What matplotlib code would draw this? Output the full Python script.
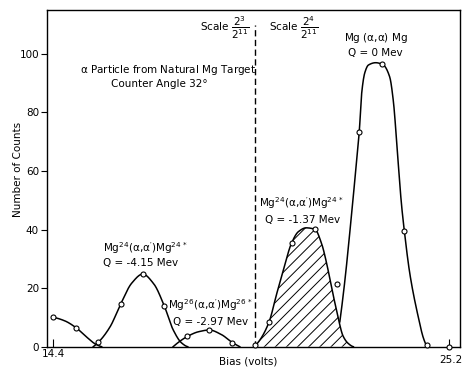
import numpy as np
import matplotlib
matplotlib.use("Agg")
import matplotlib.pyplot as plt
from matplotlib.transforms import ScaledTranslation

plt.rcParams['font.family'] = ['DejaVu Sans']
plt.rcParams['mathtext.default'] = 'regular'
plt.rcParams['hatch.linewidth'] = 0.7

# ---- measured points (open circles) ----
bias = [14.4, 15.02, 15.63, 16.24, 16.84, 17.43, 18.06, 18.66, 19.29, 19.9,
        20.29, 20.91, 21.54, 22.13, 22.75, 23.37, 23.98, 24.6, 25.2]
counts = [10, 6.5, 1.5, 14.6, 24.8, 13.9, 3.5, 5.7, 1.4, 0.5,
          8.5, 35.3, 40.3, 21.3, 73.4, 96.5, 39.6, 0.5, 0]

# ---- hand-drawn curve knots ----
tail_x = [14.4, 14.7, 15.02, 15.3, 15.55, 15.72]
tail_y = [10, 8.9, 6.5, 3.4, 0.9, 0]

mg24a_x = [15.49, 15.63, 15.95, 16.24, 16.54, 16.84, 17.14, 17.43, 17.67, 17.9, 18.07]
mg24a_y = [0, 1.5, 6.8, 14.6, 21.7, 24.8, 21.5, 13.9, 5.8, 1.3, 0]

mg26_x = [17.67, 18.06, 18.36, 18.66, 18.98, 19.29, 19.49]
mg26_y = [0, 3.5, 5.1, 5.7, 4.2, 1.4, 0]

mg24b_x = [19.88, 20.05, 20.29, 20.5, 20.68, 20.9, 21.09, 21.3, 21.54, 21.72,
           21.86, 21.99, 22.13, 22.31, 22.45, 22.59]
mg24b_y = [0, 2.5, 8.5, 18.2, 26.2, 35.3, 39.3, 40.6, 40.1, 35.3,
           28.5, 20.5, 12.5, 3.6, 1.1, 0]

elastic_x = [22.22, 22.36, 22.5, 22.63, 22.75, 22.82, 22.9, 23.0, 23.2, 23.4,
             23.58, 23.68, 23.76, 23.83, 23.9, 23.98, 24.13, 24.36, 24.5, 24.6]
elastic_y = [8.5, 22.8, 40, 57, 73.4, 87, 93.5, 96.2, 97, 96.3,
             92.2, 84, 72, 60, 49, 39.6, 25, 10.2, 3, 0]

y_ticks = [0, 20, 40, 60, 80, 100]
x_ticks = [14.4, 25.2]
x_ticklabels = ['14.4', '25.2']
scale_split = 19.9


def pchip(xk, yk, n=400):
    x = np.asarray(xk, float)
    y = np.asarray(yk, float)
    h = np.diff(x)
    dl = np.diff(y) / h
    m = len(x)
    d = np.zeros(m)
    for k in range(1, m - 1):
        if dl[k - 1] * dl[k] > 0:
            w1 = 2 * h[k] + h[k - 1]
            w2 = h[k] + 2 * h[k - 1]
            d[k] = (w1 + w2) / (w1 / dl[k - 1] + w2 / dl[k])

    def endslope(h0, h1, d0, d1):
        s = ((2 * h0 + h1) * d0 - h0 * d1) / (h0 + h1)
        if np.sign(s) != np.sign(d0):
            s = 0.0
        elif np.sign(d0) != np.sign(d1) and abs(s) > abs(3 * d0):
            s = 3 * d0
        return s

    d[0] = endslope(h[0], h[1], dl[0], dl[1])
    d[-1] = endslope(h[-1], h[-2], dl[-1], dl[-2])
    xs = np.linspace(x[0], x[-1], n)
    idx = np.clip(np.searchsorted(x, xs) - 1, 0, m - 2)
    t = (xs - x[idx]) / h[idx]
    h00 = 2 * t**3 - 3 * t**2 + 1
    h10 = t**3 - 2 * t**2 + t
    h01 = -2 * t**3 + 3 * t**2
    h11 = t**3 - t**2
    ys = (h00 * y[idx] + h10 * h[idx] * d[idx] + h01 * y[idx + 1]
          + h11 * h[idx] * d[idx + 1])
    return xs, ys


fig = plt.figure(figsize=(4.63, 3.68), dpi=100)
ax = fig.add_axes([46.7 / 463, (368 - 346.7) / 368, (460 - 46.7) / 463, (346.7 - 10) / 368])
ax.set_xlim(14.22, 25.5)
ax.set_ylim(0, 115)

lw = 1.1
for kx, ky in [(tail_x, tail_y), (mg24a_x, mg24a_y), (mg26_x, mg26_y),
               (mg24b_x, mg24b_y), (elastic_x, elastic_y)]:
    xs, ys = pchip(kx, ky)
    ax.plot(xs, ys, color='black', lw=lw, zorder=3)

# hatched peak
hx, hy = pchip(mg24b_x, mg24b_y)
ax.fill_between(hx, hy, 0, facecolor='none', edgecolor='black', hatch='///',
                linewidth=0, zorder=2)

# data circles
ax.plot(bias, counts, linestyle='none', marker='o', ms=3.6, mfc='white',
        mec='black', mew=0.8, zorder=4, clip_on=False)

# dashed scale division
ax.plot([scale_split, scale_split], [0, 110], color='black', lw=1.0,
        dashes=(4.5, 2.5), zorder=3)

# spines / ticks
for s in ax.spines.values():
    s.set_linewidth(1.0)
ax.set_yticks(y_ticks)
ax.set_yticklabels([str(v) for v in y_ticks])
ax.tick_params(axis='y', direction='out', length=4, width=0.8, pad=1.5, labelsize=7.5)
ax.set_xticks(x_ticks)
ax.set_xticklabels(x_ticklabels)
ax.tick_params(axis='x', direction='in', length=6, width=0.8, pad=1.5, labelsize=7.5)
lab = ax.get_xticklabels()[1]
lab.set_transform(lab.get_transform() + ScaledTranslation(2 / 100, -6 / 100, fig.dpi_scale_trans))

ax.set_xlabel('Bias (volts)', fontsize=7.5)
ax.xaxis.set_label_coords((248 - 46.7) / 413.3, -(356 - 346.7) / 336.7)
ax.set_ylabel('Number of Counts', fontsize=7.5)
ax.yaxis.set_label_coords((23 - 46.7) / 413.3, 0.525)

fs = 7.5
ax.text(17.52, 94.4, r'$\alpha$ Particle from Natural Mg Target', fontsize=fs,
        ha='center', va='center')
ax.text(17.28, 89.6, 'Counter Angle 32°', fontsize=fs, ha='center', va='center')

ax.text(18.4, 108.9, r'Scale $\dfrac{2^3}{2^{11}}$', fontsize=fs, ha='left', va='center')
ax.text(20.29, 108.9, r'Scale $\dfrac{2^4}{2^{11}}$', fontsize=fs, ha='left', va='center')

ax.text(15.76, 33.7, r"Mg$^{24}$($\alpha$,$\alpha'$)Mg$^{24\,*}$", fontsize=fs,
        ha='left', va='center')
ax.text(15.76, 28.6, 'Q = -4.15 Mev', fontsize=fs, ha='left', va='center')

ax.text(17.53, 14.2, r"Mg$^{26}$($\alpha$,$\alpha'$)Mg$^{26\,*}$", fontsize=fs,
        ha='left', va='center')
ax.text(17.67, 8.4, 'Q = -2.97 Mev', fontsize=fs, ha='left', va='center')

ax.text(20.01, 49.1, r"Mg$^{24}$($\alpha$,$\alpha'$)Mg$^{24\,*}$", fontsize=fs,
        ha='left', va='center')
ax.text(20.18, 43.3, 'Q = -1.37 Mev', fontsize=fs, ha='left', va='center')

ax.text(23.2, 105.5, r'Mg ($\alpha$,$\alpha$) Mg', fontsize=fs, ha='center', va='center')
ax.text(23.2, 100.3, 'Q = 0 Mev', fontsize=fs, ha='center', va='center')

fig.savefig('out.png', dpi=100)
